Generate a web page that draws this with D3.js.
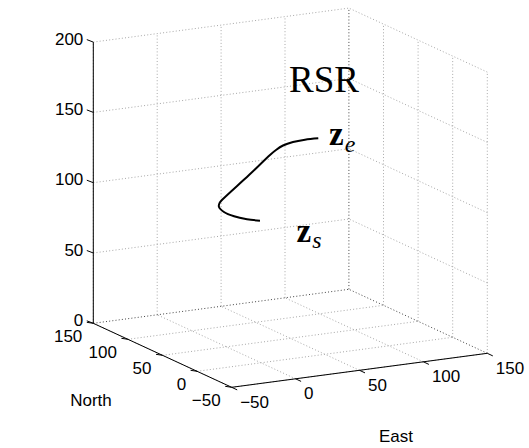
<!DOCTYPE html>
<html><head><meta charset="utf-8">
<script src="https://cdn.jsdelivr.net/npm/d3@7/dist/d3.min.js"></script>
<style>body{margin:0;background:#fff}svg{display:block}</style>
</head><body>
<script>
// ---- data ----
const eastTicks = [-50, 0, 50, 100, 150];
const northTicks = [-50, 0, 50, 100, 150];
const upTicks = [0, 50, 100, 150, 200];
const tickText = v => (v < 0 ? "\u2212" + Math.abs(v) : String(v));

// trajectory (East, North, Up)
const trajEast  = [26.3, 16.1, 6.0, -1.9, -5.8, -5.4, -2.7, 17.7, 34.1, 38.8, 44.3, 52.1, 61.5, 71.9];
const trajNorth = [50, 50, 50, 50, 50, 50, 50, 50, 50, 50, 50, 50, 50, 50];
const trajUp    = [86.5, 88.8, 92.1, 96.1, 100.1, 102.9, 105.4, 120.0, 132.3, 135.3, 137.8, 139.4, 139.9, 139.6];

const W = 529, H = 448;
const svg = d3.select("body").append("svg").attr("width", W).attr("height", H);

// ---- oblique projection built from linear scales ----
const sE = d3.scaleLinear().domain([-50, 150]).range([0, 1]);
const sN = d3.scaleLinear().domain([-50, 150]).range([0, 1]);
const sU = d3.scaleLinear().domain([0, 200]).range([0, 1]);
const O = [231.7, 387.3];
const vE = [255.6, -34], vN = [-138.4, -64], vU = [0, -281.2];
function P(e, n, u) {
  const a = sE(e), b = sN(n), c = sU(u);
  return [O[0] + a * vE[0] + b * vN[0] + c * vU[0], O[1] + a * vE[1] + b * vN[1] + c * vU[1]];
}
const E0 = -50, E1 = 150, N0 = -50, N1 = 150, U0 = 0, U1 = 200;

const gGrid = svg.append("g");
function seg(p, q, col) {
  gGrid.append("line").attr("x1", p[0]).attr("y1", p[1]).attr("x2", q[0]).attr("y2", q[1])
    .attr("stroke", col).attr("stroke-width", 1).attr("stroke-dasharray", "1 2.2");
}
const light = "#a8a8a8", dark = "#444";
// back wall N = N1
eastTicks.forEach(e => seg(P(e, N1, U0), P(e, N1, U1), e === E1 ? dark : light));
upTicks.forEach(u => seg(P(E0, N1, u), P(E1, N1, u), u === U0 ? dark : light));
// back wall E = E1
northTicks.forEach(n => { if (n !== N1) seg(P(E1, n, U0), P(E1, n, U1), light); });
upTicks.forEach(u => seg(P(E1, N0, u), P(E1, N1, u), u === U0 ? dark : light));
// floor
eastTicks.forEach(e => { if (e !== E1) seg(P(e, N0, U0), P(e, N1, U0), light); });
northTicks.forEach(n => { if (n !== N1) seg(P(E0, n, U0), P(E1, n, U0), light); });

// ---- axes ----
const gAx = svg.append("g").attr("stroke", "#000").attr("stroke-width", 1).attr("fill", "none");
function axLine(p, q) { gAx.append("line").attr("x1", p[0]).attr("y1", p[1]).attr("x2", q[0]).attr("y2", q[1]); }
axLine(P(E0, N1, U0), P(E0, N1, U1));   // up axis
axLine(P(E0, N1, U0), P(E0, N0, U0));   // north axis
axLine(P(E0, N0, U0), P(E1, N0, U0));   // east axis

const font = "'Liberation Sans', Arial, Helvetica, sans-serif";
const gTxt = svg.append("g").attr("font-family", font).attr("font-size", 17).attr("fill", "#000");

upTicks.forEach(u => {
  const p = P(E0, N1, u);
  axLine(p, [p[0] - 6.5, p[1] - 2.5]);
  gTxt.append("text").attr("x", p[0] - 10).attr("y", p[1] + 2.5).attr("text-anchor", "end").text(tickText(u));
});
northTicks.forEach(n => {
  const p = P(E0, n, U0);
  axLine(p, [p[0] - 6.5, p[1] - 1]);
  gTxt.append("text").attr("x", p[0] - 11).attr("y", p[1] + 19).attr("text-anchor", "end").text(tickText(n));
});
eastTicks.forEach(e => {
  const p = P(e, N0, U0);
  axLine(p, [p[0] + 5.5, p[1] + 2.6]);
  gTxt.append("text").attr("x", p[0] + 8.5).attr("y", p[1] + 20.5).attr("text-anchor", "start").text(tickText(e));
});

gTxt.append("text").attr("x", 91).attr("y", 406).attr("text-anchor", "middle").text("North");
gTxt.append("text").attr("x", 396).attr("y", 442).attr("text-anchor", "middle").text("East");

// ---- trajectory ----
const pts = trajEast.map((e, i) => P(e, trajNorth[i], trajUp[i]));
svg.append("path").attr("d", d3.line().curve(d3.curveCatmullRom.alpha(0.5))(pts))
  .attr("fill", "none").attr("stroke", "#000").attr("stroke-width", 2);

// ---- annotations ----
const serif = "'Liberation Serif', 'Times New Roman', serif";
svg.append("text").attr("x", 289).attr("y", 91.5).attr("font-family", serif).attr("font-size", 37).text("RSR");
function zlabel(x, y, sub, subDy) {
  const t = svg.append("text").attr("x", x).attr("y", y).attr("font-family", serif);
  t.append("tspan").attr("font-weight", "bold").attr("font-size", 33).text("z");
  t.append("tspan").attr("font-style", "italic").attr("font-size", 24).attr("dy", subDy).attr("dx", 1).text(sub);
}
zlabel(329, 145, "e", 6.5);
zlabel(296.5, 241.7, "s", 6.5);
</script>
</body></html>
